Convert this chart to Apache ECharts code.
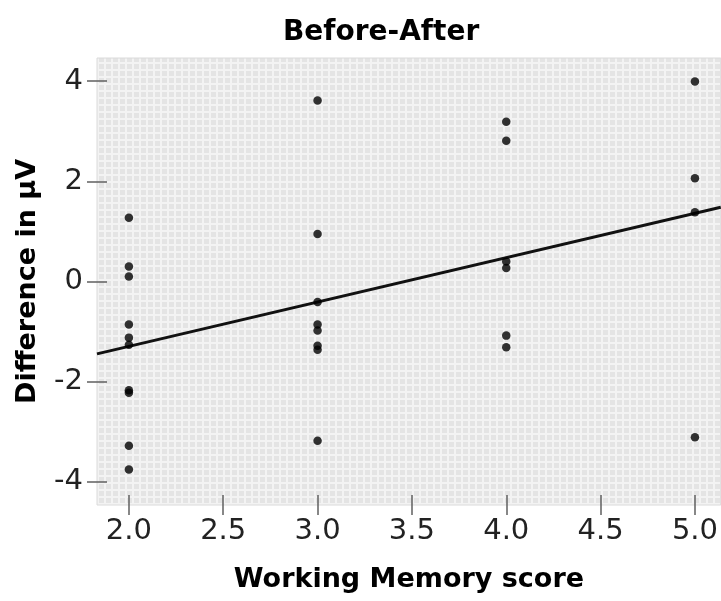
<!DOCTYPE html>
<html>
<head>
<meta charset="utf-8">
<title>Before-After</title>
<script src="https://cdn.jsdelivr.net/npm/echarts@6/dist/echarts.min.js"></script>
<style>
  html, body { margin: 0; padding: 0; background: #ffffff; }
  #chart { width: 721px; height: 601px; }
</style>
</head>
<body>
<div id="chart"></div>
<script>
// Difference (µV) per working-memory score
const score2 = [1.27, 0.30, 0.10, -0.86, -1.12, -1.26, -2.17, -2.22, -3.28, -3.75];
const score3 = [3.61, 0.95, -0.41, -0.86, -0.98, -1.28, -1.36, -3.18];
const score4 = [3.19, 2.81, 0.40, 0.27, -1.08, -1.31];
const score5 = [3.99, 2.06, 1.38, -3.11];
const scores = [2, 3, 4, 5];
const groups = [score2, score3, score4, score5];

// Linear fit line: difference = intercept + slope * score
const fitIntercept = -3.065;
const fitSlope = 0.885;

// Axis ranges and tick labels
const xRange = [1.831, 5.137];
const yRange = [-4.46, 4.46];
const xTicks = [2.0, 2.5, 3.0, 3.5, 4.0, 4.5, 5.0];
const yTicks = [-4, -2, 0, 2, 4];

const points = [];
scores.forEach((s, i) => groups[i].forEach(v => points.push([s, v])));
const fitData = xRange.map(x => [x, fitIntercept + fitSlope * x]);

// Fine mesh fill for the plotting area
function meshPattern() {
  const c = document.createElement('canvas');
  c.width = 7; c.height = 7;
  const ctx = c.getContext('2d');
  ctx.fillStyle = '#f3f3f3';
  ctx.fillRect(0, 0, 7, 7);
  ctx.fillStyle = '#e4e4e4';
  ctx.fillRect(1, 1, 5, 5);
  return c;
}

// Ticks straddle the frame: the axis sits 10px inside, ticks reach 20px outward
const tickStyle = { color: '#606060', width: 1.5 };
const labelFont = { fontFamily: 'DejaVu Sans', fontSize: 29, color: '#222222' };
const nameFont = { fontFamily: 'DejaVu Sans', fontWeight: 'bold', fontSize: 27, color: '#000000' };

const chart = echarts.init(document.getElementById('chart'), null, { renderer: 'canvas' });
chart.setOption({
  animation: false,
  backgroundColor: '#ffffff',
  title: {
    text: 'Before-After',
    left: 278,
    top: 14,
    textStyle: { fontFamily: 'DejaVu Sans', fontWeight: 'bold', fontSize: 28, color: '#000000' }
  },
  grid: {
    left: 97, top: 58, right: 0, bottom: 96,
    show: false
  },
  xAxis: {
    type: 'value',
    z: 2,
    min: xRange[0], max: xRange[1],
    offset: -10,
    name: 'Working Memory score',
    nameLocation: 'middle',
    nameGap: 71,
    nameTextStyle: nameFont,
    axisLine: { show: false, onZero: false },
    splitLine: { show: false },
    axisTick: { show: true, length: 20, lineStyle: tickStyle, customValues: xTicks },
    axisLabel: {
      ...labelFont, margin: 22, customValues: xTicks,
      formatter: v => v.toFixed(1)
    }
  },
  yAxis: {
    type: 'value',
    z: 2,
    min: yRange[0], max: yRange[1],
    offset: -10,
    name: 'Difference in µV',
    nameLocation: 'middle',
    nameGap: 66,
    nameTextStyle: nameFont,
    axisLine: { show: false, onZero: false },
    splitLine: { show: false },
    axisTick: { show: true, length: 20, lineStyle: tickStyle, customValues: yTicks },
    axisLabel: { ...labelFont, margin: 24, customValues: yTicks }
  },
  series: [{
    // plotting-area fill spanning the full axis ranges
    type: 'scatter',
    data: [],
    z: 1,
    silent: true,
    markArea: {
      silent: true,
      itemStyle: {
        color: { image: meshPattern(), repeat: 'repeat' },
        borderColor: '#dadada',
        borderWidth: 1
      },
      data: [[{ coord: [xRange[0], yRange[0]] }, { coord: [xRange[1], yRange[1]] }]]
    }
  }, {
    type: 'line',
    data: fitData,
    showSymbol: false,
    lineStyle: { color: '#111111', width: 3 },
    z: 3
  }, {
    type: 'scatter',
    data: points,
    symbol: 'circle',
    symbolSize: 8.5,
    itemStyle: { color: '#000000' },
    z: 4
  }]
});
</script>
</body>
</html>
